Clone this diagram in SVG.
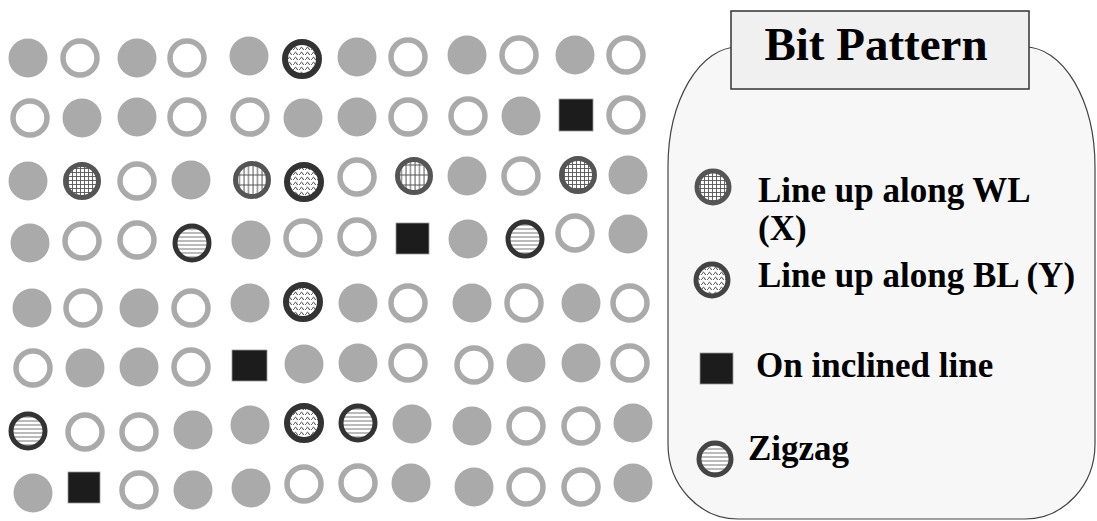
<svg xmlns="http://www.w3.org/2000/svg" width="1097" height="521" viewBox="0 0 1097 521">
<defs>
<pattern id="pY" width="6" height="5" patternUnits="userSpaceOnUse">
<rect width="6" height="5" fill="#fff"/>
<path d="M0 4 Q1.5 0.5 3 4 T6 4" fill="none" stroke="#444" stroke-width="1"/>
</pattern>
<pattern id="pX" width="4" height="4" patternUnits="userSpaceOnUse">
<rect width="4" height="4" fill="#fff"/>
<path d="M0.5 0 V4 M0 0.5 H4" stroke="#555" stroke-width="0.9"/>
</pattern>
<pattern id="pV" width="4.5" height="10" patternUnits="userSpaceOnUse">
<rect width="4.5" height="10" fill="#fff"/>
<path d="M1 0 V10 M0 5 H4.5" stroke="#555" stroke-width="1"/>
</pattern>
<pattern id="pZ" width="10" height="4" patternUnits="userSpaceOnUse">
<rect width="10" height="4" fill="#fff"/>
<path d="M0 1 H10" stroke="#777" stroke-width="1"/>
</pattern>
</defs>
<style>
.f{fill:#aaaaaa}
.o{fill:#fff;stroke:#aaaaaa;stroke-width:5.5}
.y{fill:url(#pY);stroke:#333;stroke-width:6}
.x{fill:url(#pX);stroke:#555;stroke-width:5}
.v{fill:url(#pV);stroke:#555;stroke-width:5}
.z{fill:url(#pZ);stroke:#333;stroke-width:5}
.s{fill:#1c1c1c;stroke:#999;stroke-width:0.8}
.t{font-family:"Liberation Serif","Times New Roman",serif;font-weight:bold;fill:#000}
</style>
<rect width="1097" height="521" fill="#fff"/>
<g id="grid">
<g id="r1c1"><circle class="f" cx="28" cy="58" r="19.5"/></g>
<g id="r1c2"><circle class="o" cx="80" cy="58" r="17"/></g>
<g id="r1c3"><circle class="f" cx="137" cy="58" r="19.5"/></g>
<g id="r1c4"><circle class="o" cx="187" cy="58" r="17"/></g>
<g id="r1c5"><circle class="f" cx="249" cy="56" r="19.5"/></g>
<g id="r1c6"><circle class="y" cx="302" cy="59" r="17"/></g>
<g id="r1c7"><circle class="f" cx="357" cy="57" r="19.5"/></g>
<g id="r1c8"><circle class="o" cx="408" cy="57" r="17"/></g>
<g id="r1c9"><circle class="f" cx="467" cy="55" r="19.5"/></g>
<g id="r1c10"><circle class="o" cx="519" cy="55" r="17"/></g>
<g id="r1c11"><circle class="f" cx="575" cy="55" r="19.5"/></g>
<g id="r1c12"><circle class="o" cx="626" cy="55" r="17"/></g>

<g id="r2c1"><circle class="o" cx="30" cy="118" r="17"/></g>
<g id="r2c2"><circle class="f" cx="82" cy="118" r="19.5"/></g>
<g id="r2c3"><circle class="f" cx="137" cy="117" r="19.5"/></g>
<g id="r2c4"><circle class="o" cx="187" cy="117" r="17"/></g>
<g id="r2c5"><circle class="o" cx="250" cy="117" r="17"/></g>
<g id="r2c6"><circle class="f" cx="303" cy="118" r="19.5"/></g>
<g id="r2c7"><circle class="f" cx="357" cy="117" r="19.5"/></g>
<g id="r2c8"><circle class="o" cx="408" cy="117" r="17"/></g>
<g id="r2c9"><circle class="o" cx="468" cy="116" r="17"/></g>
<g id="r2c10"><circle class="f" cx="521" cy="116" r="19.5"/></g>
<g id="r2c11"><rect class="s" x="559" y="99" width="34" height="32"/></g>
<g id="r2c12"><circle class="o" cx="626" cy="115" r="17"/></g>

<g id="r3c1"><circle class="f" cx="28" cy="181" r="19.5"/></g>
<g id="r3c2"><circle class="x" cx="82" cy="181" r="16.5"/></g>
<g id="r3c3"><circle class="o" cx="137" cy="181" r="17"/></g>
<g id="r3c4"><circle class="f" cx="191" cy="180" r="19.5"/></g>
<g id="r3c5"><circle class="v" cx="252" cy="180" r="16.5"/></g>
<g id="r3c6"><circle class="y" cx="304" cy="182" r="17"/></g>
<g id="r3c7"><circle class="o" cx="357" cy="177" r="17"/></g>
<g id="r3c8"><circle class="v" cx="414" cy="176" r="16.5"/></g>
<g id="r3c9"><circle class="f" cx="467" cy="176" r="19.5"/></g>
<g id="r3c10"><circle class="o" cx="521" cy="176" r="17"/></g>
<g id="r3c11"><circle class="x" cx="578" cy="175" r="16.5"/></g>
<g id="r3c12"><circle class="f" cx="628" cy="175" r="19.5"/></g>

<g id="r4c1"><circle class="f" cx="30" cy="243" r="19.5"/></g>
<g id="r4c2"><circle class="o" cx="82" cy="241" r="17"/></g>
<g id="r4c3"><circle class="o" cx="137" cy="240" r="17"/></g>
<g id="r4c4"><circle class="z" cx="192" cy="243" r="17"/></g>
<g id="r4c5"><circle class="f" cx="251" cy="240" r="19.5"/></g>
<g id="r4c6"><circle class="o" cx="303" cy="238" r="17"/></g>
<g id="r4c7"><circle class="o" cx="357" cy="237" r="17"/></g>
<g id="r4c8"><rect class="s" x="396" y="223" width="33" height="31"/></g>
<g id="r4c9"><circle class="f" cx="468" cy="239" r="19.5"/></g>
<g id="r4c10"><circle class="z" cx="525" cy="239" r="17"/></g>
<g id="r4c11"><circle class="o" cx="575" cy="233" r="17"/></g>
<g id="r4c12"><circle class="f" cx="628" cy="234" r="19.5"/></g>

<g id="r5c1"><circle class="f" cx="32" cy="308" r="19.5"/></g>
<g id="r5c2"><circle class="o" cx="83" cy="308" r="17"/></g>
<g id="r5c3"><circle class="f" cx="139" cy="308" r="19.5"/></g>
<g id="r5c4"><circle class="o" cx="191" cy="308" r="17"/></g>
<g id="r5c5"><circle class="f" cx="250" cy="303" r="19.5"/></g>
<g id="r5c6"><circle class="y" cx="303" cy="302" r="17"/></g>
<g id="r5c7"><circle class="f" cx="358" cy="303" r="19.5"/></g>
<g id="r5c8"><circle class="o" cx="408" cy="303" r="17"/></g>
<g id="r5c9"><circle class="f" cx="472" cy="303" r="19.5"/></g>
<g id="r5c10"><circle class="o" cx="524" cy="303" r="17"/></g>
<g id="r5c11"><circle class="f" cx="581" cy="303" r="19.5"/></g>
<g id="r5c12"><circle class="o" cx="630" cy="303" r="17"/></g>

<g id="r6c1"><circle class="o" cx="33" cy="368" r="17"/></g>
<g id="r6c2"><circle class="f" cx="85" cy="368" r="19.5"/></g>
<g id="r6c3"><circle class="f" cx="139" cy="367" r="19.5"/></g>
<g id="r6c4"><circle class="o" cx="191" cy="367" r="17"/></g>
<g id="r6c5"><rect class="s" x="232" y="350" width="35" height="31"/></g>
<g id="r6c6"><circle class="f" cx="304" cy="364" r="19.5"/></g>
<g id="r6c7"><circle class="f" cx="358" cy="363" r="19.5"/></g>
<g id="r6c8"><circle class="o" cx="408" cy="363" r="17"/></g>
<g id="r6c9"><circle class="o" cx="474" cy="365" r="17"/></g>
<g id="r6c10"><circle class="f" cx="526" cy="363" r="19.5"/></g>
<g id="r6c11"><circle class="f" cx="581" cy="363" r="19.5"/></g>
<g id="r6c12"><circle class="o" cx="630" cy="363" r="17"/></g>

<g id="r7c1"><circle class="z" cx="28" cy="431" r="17"/></g>
<g id="r7c2"><circle class="o" cx="85" cy="432" r="17"/></g>
<g id="r7c3"><circle class="o" cx="139" cy="432" r="17"/></g>
<g id="r7c4"><circle class="f" cx="193" cy="430" r="19.5"/></g>
<g id="r7c5"><circle class="f" cx="250" cy="425" r="19.5"/></g>
<g id="r7c6"><circle class="y" cx="304" cy="423" r="17"/></g>
<g id="r7c7"><circle class="z" cx="358" cy="423" r="17"/></g>
<g id="r7c8"><circle class="f" cx="412" cy="424" r="19.5"/></g>
<g id="r7c9"><circle class="f" cx="472" cy="426" r="19.5"/></g>
<g id="r7c10"><circle class="o" cx="526" cy="426" r="17"/></g>
<g id="r7c11"><circle class="o" cx="581" cy="426" r="17"/></g>
<g id="r7c12"><circle class="f" cx="633" cy="423" r="19.5"/></g>

<g id="r8c1"><circle class="f" cx="33" cy="493" r="19.5"/></g>
<g id="r8c2"><rect class="s" x="68" y="472" width="32" height="31"/></g>
<g id="r8c3"><circle class="o" cx="139" cy="490" r="17"/></g>
<g id="r8c4"><circle class="f" cx="193" cy="490" r="19.5"/></g>
<g id="r8c5"><circle class="f" cx="251" cy="488" r="19.5"/></g>
<g id="r8c6"><circle class="o" cx="304" cy="484" r="17"/></g>
<g id="r8c7"><circle class="o" cx="358" cy="483" r="17"/></g>
<g id="r8c8"><circle class="f" cx="411" cy="483" r="19.5"/></g>
<g id="r8c9"><circle class="f" cx="474" cy="487" r="19.5"/></g>
<g id="r8c10"><circle class="o" cx="526" cy="487" r="17"/></g>
<g id="r8c11"><circle class="o" cx="581" cy="487" r="17"/></g>
<g id="r8c12"><circle class="f" cx="633" cy="483" r="19.5"/></g>
</g>

<g id="legend">
<path d="M738 47 H1025 A70 120 0 0 1 1095 167 V444 A70 75 0 0 1 1025 519 H738 A70 75 0 0 1 668 444 V167 A70 120 0 0 1 738 47 Z" fill="#f7f7f7" stroke="#444" stroke-width="1.2"/>
<g id="title">
<rect x="731" y="11" width="298" height="78" fill="#f0f0f0" stroke="#333" stroke-width="1.5"/>
<text class="t" x="876" y="60" font-size="47" text-anchor="middle">Bit Pattern</text>
</g>
<g id="leg-wl">
<circle class="x" cx="713" cy="187" r="16"/>
<text class="t" x="758" y="202" font-size="35">Line up along WL</text>
<text class="t" x="758" y="240" font-size="35">(X)</text>
</g>
<g id="leg-bl">
<circle class="y" cx="712" cy="280" r="16" style="stroke:#444;stroke-width:5"/>
<text class="t" x="758" y="287" font-size="35">Line up along BL (Y)</text>
</g>
<g id="leg-incl">
<rect class="s" x="700" y="353" width="33" height="31"/>
<text class="t" x="756" y="377" font-size="35">On inclined line</text>
</g>
<g id="leg-zig">
<circle class="z" cx="715" cy="459" r="16" style="stroke:#444"/>
<text class="t" x="748" y="460" font-size="35">Zigzag</text>
</g>
</g>
</svg>
